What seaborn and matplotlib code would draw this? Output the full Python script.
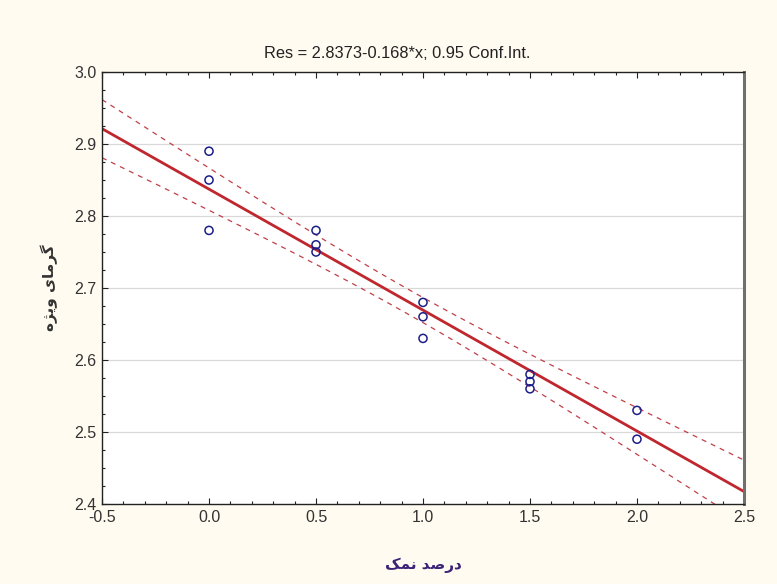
import matplotlib
matplotlib.use("Agg")

import matplotlib.pyplot as plt
import seaborn as sns
import numpy as np
import pandas as pd
from matplotlib.ticker import MultipleLocator

# salt percentage vs specific heat
salt = [0.0, 0.0, 0.0, 0.5, 0.5, 0.5, 1.0, 1.0, 1.0, 1.5, 1.5, 1.5, 2.0, 2.0]
heat = [2.89, 2.85, 2.78, 2.78, 2.76, 2.75, 2.68, 2.66, 2.63,
        2.58, 2.57, 2.56, 2.53, 2.49]

intercept = 2.8373
slope = -0.168
t_crit = 2.179  # t(0.975, df=12)

title = "Res = 2.8373-0.168*x; 0.95 Conf.Int."
# Persian labels in presentation forms, visual order
xlabel = "\ufb8f\ufee4\ufee7 \ufeaa\ufebb\ufead\ufea9"          # درصد نمک
ylabel = "\ufee9\ufb8b\ufbfe\ufeed \ufbfc\ufe8e\ufee3\ufeae\ufb94"  # گرمای ویژه

sns.set_theme(style="white")
plt.rcParams["font.family"] = ["Liberation Sans", "DejaVu Sans"]

df = pd.DataFrame({"x": salt, "y": heat})

x = np.array(salt)
y = np.array(heat)
n = len(x)
resid = y - (intercept + slope * x)
s = np.sqrt(np.sum(resid ** 2) / (n - 2))
sxx = np.sum((x - x.mean()) ** 2)

grid_x = np.linspace(-0.5, 2.5, 200)
fit = intercept + slope * grid_x
half = t_crit * s * np.sqrt(1 / n + (grid_x - x.mean()) ** 2 / sxx)
lines = pd.DataFrame({"x": grid_x, "fit": fit, "lo": fit - half, "hi": fit + half})

fig = plt.figure(figsize=(7.77, 5.84), dpi=100)
fig.patch.set_facecolor("#fffbf0")
ax = fig.add_axes([0.1313, 0.137, 0.8262, 0.7397])
ax.set_facecolor("white")

for y_ in np.arange(2.5, 3.0, 0.1):
    ax.axhline(y_, color="#d9d9d9", lw=0.9, zorder=0)

sns.lineplot(data=lines, x="x", y="hi", ax=ax, color="#c04048",
             lw=0.9, linestyle=(0, (4, 4)))
sns.lineplot(data=lines, x="x", y="lo", ax=ax, color="#c04048",
             lw=0.9, linestyle=(0, (4, 4)))
sns.lineplot(data=lines, x="x", y="fit", ax=ax, color="#c0262e", lw=2)

sns.scatterplot(data=df, x="x", y="y", ax=ax, s=34, marker="o",
                facecolor="none", edgecolor="#1c1f8a", linewidth=1.1,
                zorder=5)

ax.set_xlim(-0.5, 2.5)
ax.set_ylim(2.4, 3.0)
ax.xaxis.set_major_locator(MultipleLocator(0.5))
ax.xaxis.set_minor_locator(MultipleLocator(0.1))
ax.yaxis.set_major_locator(MultipleLocator(0.1))
ax.yaxis.set_minor_locator(MultipleLocator(0.025))
ax.xaxis.set_major_formatter(plt.FuncFormatter(lambda v, p: f"{v:.1f}"))
ax.yaxis.set_major_formatter(plt.FuncFormatter(lambda v, p: f"{v:.1f}"))

ax.tick_params(which="both", direction="in", top=True, bottom=True,
               left=True, right=False, colors="#222222")
ax.tick_params(which="major", length=4, width=0.8, labelsize=11.5,
               labelcolor="#333333", pad=4)
ax.tick_params(which="minor", length=2, width=0.8)

for side in ["left", "bottom", "top"]:
    ax.spines[side].set_color("#222222")
    ax.spines[side].set_linewidth(1.0)
ax.spines["right"].set_color("#707070")
ax.spines["right"].set_linewidth(2.2)

ax.set_title(title, fontsize=11.8, color="#222222", pad=10, x=0.46)
ax.set_xlabel(xlabel, family=["DejaVu Sans"], fontsize=11,
              fontweight="bold", color="#3b2277", labelpad=24)
ax.set_ylabel(ylabel, family=["DejaVu Sans"], fontsize=11,
              fontweight="bold", color="#333333", labelpad=12)

fig.savefig("out.png", dpi=100, facecolor=fig.get_facecolor())
